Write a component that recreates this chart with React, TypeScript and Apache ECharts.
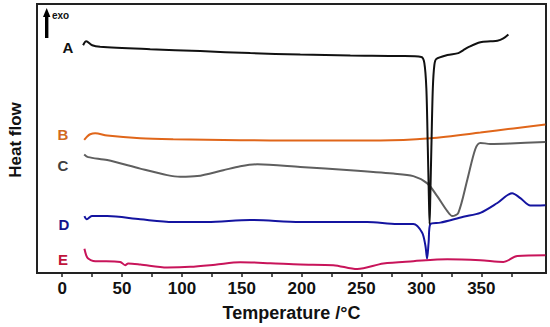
import React, { useEffect, useRef } from "react";
import * as echarts from "echarts";

// Temperature (°C) vs heat flow (arbitrary units, vertically offset curves)
const curveA: [number, number][] = [
  [17.5, 232], [20.1, 236], [25.1, 232], [31.7, 230.5], [73.5, 228], [115.3, 226],
  [157.1, 224], [198.8, 222.5], [240.6, 221.5], [282.4, 221], [299.9, 220], [302.4, 214],
  [304.1, 188], [305.3, 128], [306.2, 78], [306.8, 50], [307.4, 78], [308.3, 128],
  [309.5, 188], [310.8, 212], [312.4, 218], [321.6, 222], [330.8, 224], [335, 227],
  [339.2, 230], [349.2, 235], [357.6, 236], [363.4, 236.5], [368.4, 239], [372.6, 243],
];
const curveB: [number, number][] = [
  [18.4, 135.5], [20.9, 139], [23.4, 141.3], [27.6, 142.3], [37.6, 140], [65.2, 137.3],
  [92.7, 136.3], [148.7, 135.3], [198.8, 135], [265.7, 135], [307.4, 137.3], [349.2, 143],
  [376.8, 147.3], [403.5, 151.3],
];
const curveC: [number, number][] = [
  [18.4, 120.7], [21.7, 118], [37.6, 115], [65.2, 106.3], [87.7, 99.7], [98.6, 98],
  [112.8, 98.7], [134.5, 104.7], [148.7, 108.7], [162.9, 110.7], [198.8, 108], [240.6, 104.7],
  [276.5, 101.3], [293.2, 98.7], [304.9, 91.3], [313.3, 78], [321.6, 63], [325.8, 58],
  [330.8, 61.3], [338.3, 95], [345, 126.3], [349.2, 132.5], [357.6, 131.5], [374.3, 132],
  [403.5, 133.5],
];
const curveD: [number, number][] = [
  [18.6, 58], [20.6, 54.7], [24.8, 58], [37.6, 58], [65.2, 54.7], [92.7, 52], [121.1, 52],
  [157.1, 54], [198.8, 52], [254.8, 52], [279.9, 50], [293.2, 50], [300.5, 41.3], [303.3, 28],
  [304.7, 14.7], [306, 31.3], [307.4, 49.7], [315.8, 51.3], [335, 57.3], [349.2, 61.3],
  [363.4, 71.3], [375.7, 81.3], [382.6, 76.3], [391, 68.7], [403.5, 69],
];
const curveE: [number, number][] = [
  [18.6, 24.7], [20.1, 18], [21.7, 14.7], [25.9, 12.3], [48.5, 11.3], [52.6, 8], [55.1, 9.7],
  [65.2, 8.7], [87.7, 5.7], [106.9, 6.3], [127.8, 8.5], [148.7, 11], [173.8, 10], [198.8, 8.7],
  [226.4, 8], [246.4, 4], [268.2, 9.7], [293.2, 12], [321.6, 14], [349.2, 13], [368.4, 11.3],
  [380.1, 17.3], [403.5, 18],
];

const seriesNames = ["A", "B", "C", "D", "E"];
const seriesColors = ["#111111", "#e0661a", "#5f5f5f", "#1414a0", "#c8145a"];
const labelColors = ["#111111", "#d2691e", "#404040", "#14148c", "#c0143c"];
const tickValues = [0, 25, 50, 75, 100, 125, 150, 175, 200, 225, 250, 275, 300, 325, 350, 375];
const labelValues = [0, 50, 100, 150, 200, 250, 300, 350];

const allCurves = [curveA, curveB, curveC, curveD, curveE];
const letterPos: [number, number][] = [
  [68, 47], [63, 134], [63, 165], [64, 224], [63, 259],
];

export default function App() {
  const ref = useRef<HTMLDivElement>(null);
  useEffect(() => {
    if (!ref.current) return;
    const chart = echarts.init(ref.current, null, { renderer: "svg" });
    const font = "'Liberation Sans', Arial, sans-serif";
    chart.setOption({
      animation: false,
      grid: {
        left: 37, top: 4, right: 4, bottom: 49,
        show: true, borderColor: "#222", borderWidth: 2, backgroundColor: "#fff",
      },
      xAxis: {
        type: "value", min: -21, max: 404,
        axisLine: { show: true, lineStyle: { color: "#222", width: 2 } },
        axisTick: { show: true, customValues: tickValues, length: 4, lineStyle: { color: "#222", width: 1.5 } },
        axisLabel: {
          customValues: labelValues, color: "#111", fontSize: 17, fontWeight: "bold",
          fontFamily: font, margin: 7,
        },
        splitLine: { show: false },
        name: "Temperature /°C", nameLocation: "middle", nameGap: 31,
        nameTextStyle: { color: "#111", fontSize: 18, fontWeight: "bold", fontFamily: font },
      },
      yAxis: {
        type: "value", min: 0, max: 274, show: false,
      },
      series: allCurves.map((d, i) => ({
        type: "line", name: seriesNames[i], data: d, showSymbol: false, smooth: 0.3,
        lineStyle: { color: seriesColors[i], width: 2 }, z: i === 0 ? 5 : 3,
      })),
      graphic: [
        {
          type: "text", x: 15, y: 140, rotation: Math.PI / 2,
          style: {
            text: "Heat flow", fill: "#111", font: `bold 17px ${font}`,
            align: "center", verticalAlign: "middle",
          },
        },
        { type: "rect", shape: { x: 45, y: 15, width: 3.4, height: 23 }, style: { fill: "#000" } },
        { type: "polygon", shape: { points: [[46.7, 8], [43, 17], [50.4, 17]] }, style: { fill: "#000" } },
        {
          type: "text", x: 52, y: 15,
          style: { text: "exo", fill: "#111", font: `bold 10px ${font}`, verticalAlign: "middle" },
        },
        ...seriesNames.map((n, i) => ({
          type: "text", x: letterPos[i][0], y: letterPos[i][1],
          style: {
            text: n, fill: labelColors[i], font: `bold 15px ${font}`,
            align: "center", verticalAlign: "middle",
          },
        })),
      ],
    });
    return () => chart.dispose();
  }, []);
  return <div ref={ref} style={{ width: 550, height: 327, position: "absolute", left: 0, top: 0 }} />;
}
